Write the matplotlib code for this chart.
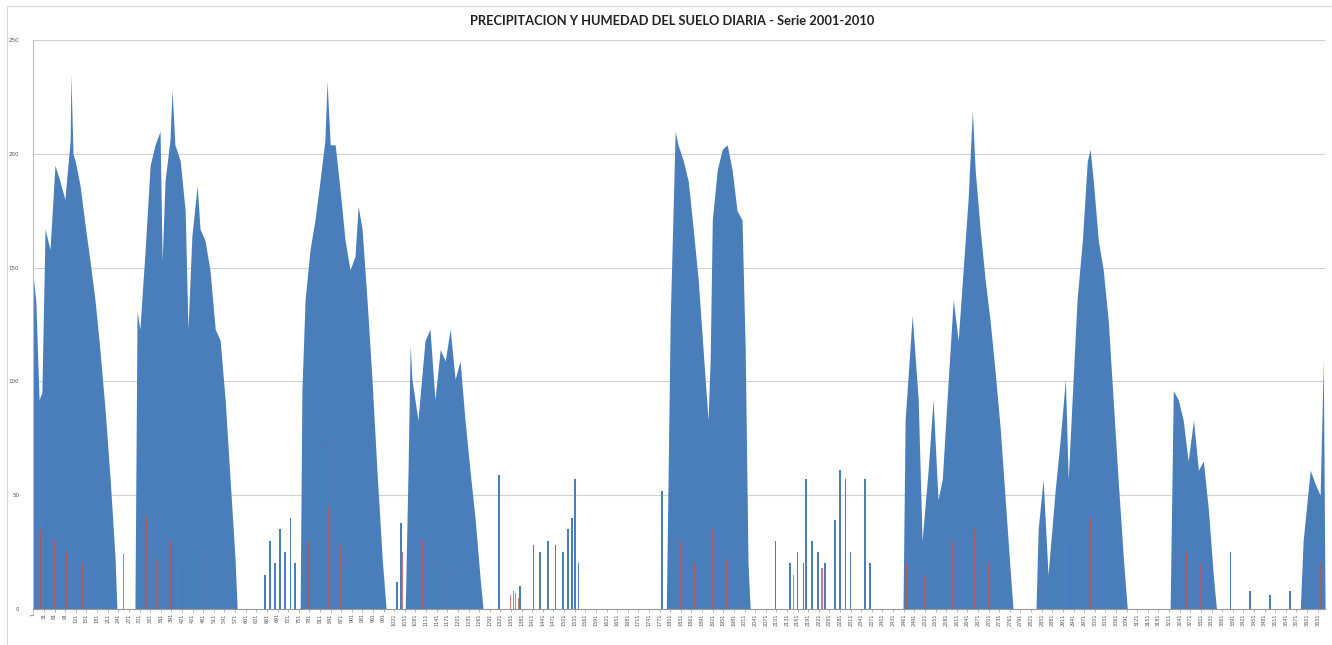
import matplotlib.pyplot as plt
from matplotlib.patches import Rectangle

# Humedad del suelo (envolvente): dia, valor
hum_dia = [0, 8, 17, 25, 34, 48, 62, 76, 90, 105, 107, 113, 119, 133, 147, 161, 175, 189, 204, 218, 232, 237,
           288, 294, 302, 317, 331, 345, 359, 365, 373, 387, 393, 401, 416, 430, 438, 449, 464, 472, 486, 500,
           515, 529, 543, 557, 571, 577,
           755, 760, 769, 783, 797, 811, 825, 831, 840, 854, 868, 882, 896, 910, 919, 930, 944, 958, 972, 987, 998,
           1052, 1060, 1066, 1071, 1088, 1108, 1122, 1136, 1151, 1165, 1179, 1193, 1207, 1221, 1235, 1250, 1264, 1272,
           1790, 1801, 1815, 1823, 1838, 1852, 1866, 1880, 1894, 1908, 1914, 1920, 1934, 1948, 1962, 1976, 1990,
           2004, 2013, 2021, 2027,
           2459, 2465, 2485, 2502, 2513, 2530, 2544, 2558, 2570, 2587, 2601, 2615, 2629, 2643, 2655, 2663, 2677,
           2691, 2705, 2719, 2734, 2748, 2762, 2770,
           2835, 2841, 2855, 2869, 2889, 2903, 2918, 2926, 2937, 2951, 2966, 2980, 2988, 2997, 3011, 3025, 3039,
           3053, 3067, 3082, 3093,
           3214, 3223, 3237, 3251, 3265, 3280, 3294, 3308, 3322, 3336, 3345,
           3582, 3590, 3610, 3624, 3638, 3647, 3652]
hum_val = [147, 135, 92, 95, 167, 158, 195, 188, 180, 206, 235, 200, 197, 186, 169, 153, 136, 114, 87, 57, 22, 0,
           0, 131, 123, 158, 195, 204, 210, 153, 188, 206, 228, 204, 197, 175, 123, 164, 186, 167, 162, 149,
           123, 118, 92, 57, 22, 0,
           0, 96, 136, 158, 171, 188, 206, 232, 204, 204, 184, 162, 149, 155, 177, 167, 136, 101, 61, 22, 0,
           0, 61, 116, 101, 83, 118, 123, 92, 114, 109, 123, 101, 109, 83, 61, 39, 13, 0,
           0, 127, 210, 204, 197, 188, 167, 145, 114, 83, 110, 171, 193, 202, 204, 193, 175,
           171, 114, 20, 0,
           0, 83, 129, 92, 30, 61, 92, 48, 57, 101, 136, 118, 149, 180, 219, 193, 167,
           145, 127, 105, 79, 48, 17, 0,
           0, 35, 57, 15, 52, 74, 101, 57, 92, 136, 162, 197, 202, 188, 162, 149, 127,
           92, 57, 22, 0,
           0, 96, 92, 83, 65, 83, 61, 65, 44, 15, 0,
           0, 30, 61, 55, 50, 109, 0]

# Picos aislados de humedad
pico_dia = [656, 670, 684, 698, 712, 727, 741, 1029, 1040, 1317, 1377, 1414, 1433, 1456, 1476, 1498, 1512,
            1523, 1532, 1541, 1778, 2098, 2140, 2160, 2177, 2185, 2202, 2219, 2239, 2267, 2281, 2296, 2310,
            2352, 2366, 3384, 3440, 3496, 3553]
pico_val = [15, 30, 20, 35, 25, 40, 20, 12, 38, 59, 10, 28, 25, 30, 28, 25, 35,
            40, 57, 20, 52, 30, 20, 25, 20, 57, 30, 25, 20, 39, 61, 57, 25,
            57, 20, 25, 8, 6, 8]

# Precipitacion diaria
prec_dia = [20, 34, 62, 95, 140, 255, 300, 322, 350, 390, 420, 470, 780, 815, 835, 870, 900, 1045, 1100,
            1150, 1200, 1350, 1358, 1365, 1372, 1800, 1830, 1870, 1920, 1960, 2150, 2230, 2470, 2520, 2600,
            2660, 2700, 2880, 2930, 2990, 3230, 3260, 3300, 3590, 3640]
prec_val = [35, 39, 30, 25, 20, 24, 28, 41, 22, 30, 18, 25, 30, 74, 45, 28, 20, 25, 30,
            20, 15, 6, 8, 7, 5, 25, 30, 20, 35, 22, 15, 18, 20, 15, 30,
            35, 20, 25, 30, 40, 70, 25, 20, 15, 20]

tick_lab = list(range(1, 3652, 30))

fig = plt.figure(figsize=(13.32, 6.45), dpi=100)
ax = fig.add_axes([0.0248, 0.0558, 0.97, 0.882])

ax.fill_between(hum_dia, hum_val, color='#4a7ebb', lw=0, zorder=2)
ax.bar(pico_dia, pico_val, width=4, color='#4a7ebb', lw=0, zorder=2)
ax.bar(prec_dia, prec_val, width=3, color='#c0504d', alpha=0.75, lw=0, zorder=3)

ax.set_xlim(0, 3652)
ax.set_ylim(0, 250)
ax.set_yticks([0, 50, 100, 150, 200, 250])
ax.yaxis.grid(True, color='#d0d0d0', lw=0.8, zorder=0)
ax.set_axisbelow(True)
ax.tick_params(axis='y', labelsize=4, length=0, colors='#555555', pad=10)
ax.set_xticks(tick_lab)
ax.set_xticklabels([str(t) for t in tick_lab], rotation=90, fontsize=3.5, color='#555555')
ax.tick_params(axis='x', length=2, width=0.5, color='#999999', pad=1)
for s in ['top', 'right']:
    ax.spines[s].set_visible(False)
ax.spines['left'].set_color('#bbbbbb')
ax.spines['bottom'].set_color('#999999')

fig.text(0.505, 0.968, 'PRECIPITACION Y HUMEDAD DEL SUELO DIARIA - Serie 2001-2010',
         ha='center', va='center', fontsize=9.3, fontweight='bold', family='Lato', color='#222222')

fig.patches.append(Rectangle((0.005, -0.01), 1.0, 1.0, transform=fig.transFigure,
                             fill=False, edgecolor='#d9d9d9', lw=0.8))

fig.savefig('out.png', dpi=100)
